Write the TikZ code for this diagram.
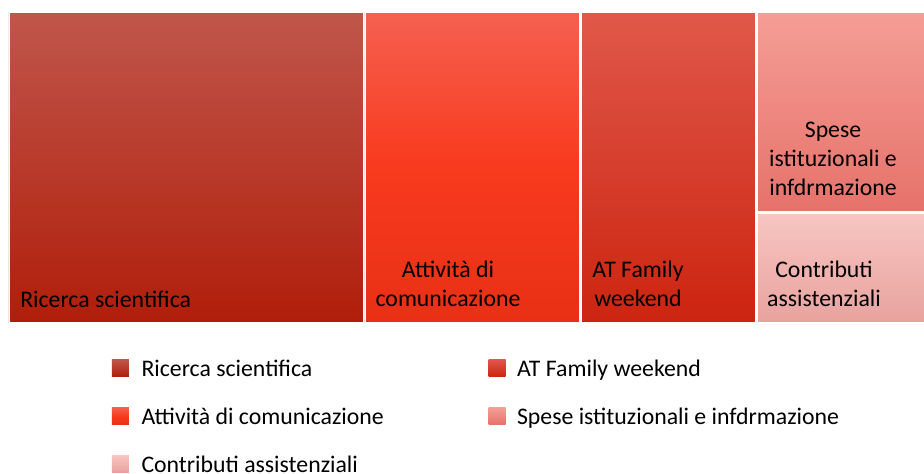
\documentclass[tikz,border=0pt]{standalone}
\usepackage{fontspec}
\setmainfont{Carlito}
\usepackage{tikz}
\usetikzlibrary{positioning}

\definecolor{ricTop}{HTML}{C0564B}
\definecolor{ricBot}{HTML}{B01E0A}
\definecolor{comTop}{HTML}{F56050}
\definecolor{comMid}{HTML}{F83A1E}
\definecolor{comBot}{HTML}{E83015}
\definecolor{famTop}{HTML}{E0584A}
\definecolor{famBot}{HTML}{CC2410}
\definecolor{speTop}{HTML}{F59E96}
\definecolor{speBot}{HTML}{E6726A}
\definecolor{conTop}{HTML}{F8C6C2}
\definecolor{conBot}{HTML}{E8A29E}

\begin{document}
\begin{tikzpicture}[
  lab/.style={font=\fontsize{17.9}{21.8}\selectfont,text=black,align=center,inner sep=0pt},
  legbox/.style={rectangle,draw=none,minimum width=0.45cm,minimum height=0.45cm,inner sep=0pt},
  legtext/.style={font=\fontsize{17.9}{21.8}\selectfont,text=black,inner sep=0pt,anchor=base west}
]
\useasboundingbox (0,0) rectangle (24.447,12.515);
% treemap blocks
\draw[top color=ricTop,bottom color=ricBot,draw=white,very thin] (0.238,3.995) rectangle (9.604,12.197);
\draw[top color=comTop,bottom color=comBot,middle color=comMid,draw=white,very thin] (9.657,3.995) rectangle (15.319,12.197);
\draw[top color=famTop,bottom color=famBot,draw=white,very thin] (15.372,3.995) rectangle (19.976,12.197);
\draw[top color=speTop,bottom color=speBot,draw=white,very thin] (20.029,6.932) rectangle (24.447,12.197);
\draw[top color=conTop,bottom color=conBot,draw=white,very thin] (20.029,3.995) rectangle (24.447,6.879);

\node[lab,anchor=base west] (ric) at (0.529,4.392) {Ricerca scientifica};
\node[lab] (com) at (11.853,5.001) {Attività di\\comunicazione};
\node[lab] (fam) at (16.880,5.001) {AT Family\\weekend};
\node[lab] (spe) at (22.040,8.308) {Spese\\istituzionali e\\infdrmazione};
\node[lab] (con) at (21.802,5.001) {Contributi\\assistenziali};

% legend
\node[legbox,top color=ricTop,bottom color=ricBot] (lRic) at (3.188,2.778) {};
\node[legtext] (tRic) at ([xshift=0.317cm]lRic.south east) {Ricerca scientifica};
\node[legbox,top color=comTop,bottom color=comBot,middle color=comMid] (lCom) at (3.188,1.508) {};
\node[legtext] (tCom) at ([xshift=0.317cm]lCom.south east) {Attività di comunicazione};
\node[legbox,top color=conTop,bottom color=conBot] (lCon) at (3.188,0.251) {};
\node[legtext] (tCon) at ([xshift=0.317cm]lCon.south east) {Contributi assistenziali};
\node[legbox,top color=famTop,bottom color=famBot] (lFam) at (13.150,2.778) {};
\node[legtext] (tFam) at ([xshift=0.290cm]lFam.south east) {AT Family weekend};
\node[legbox,top color=speTop,bottom color=speBot] (lSpe) at (13.150,1.508) {};
\node[legtext] (tSpe) at ([xshift=0.290cm]lSpe.south east) {Spese istituzionali e infdrmazione};

\end{tikzpicture}
\end{document}
